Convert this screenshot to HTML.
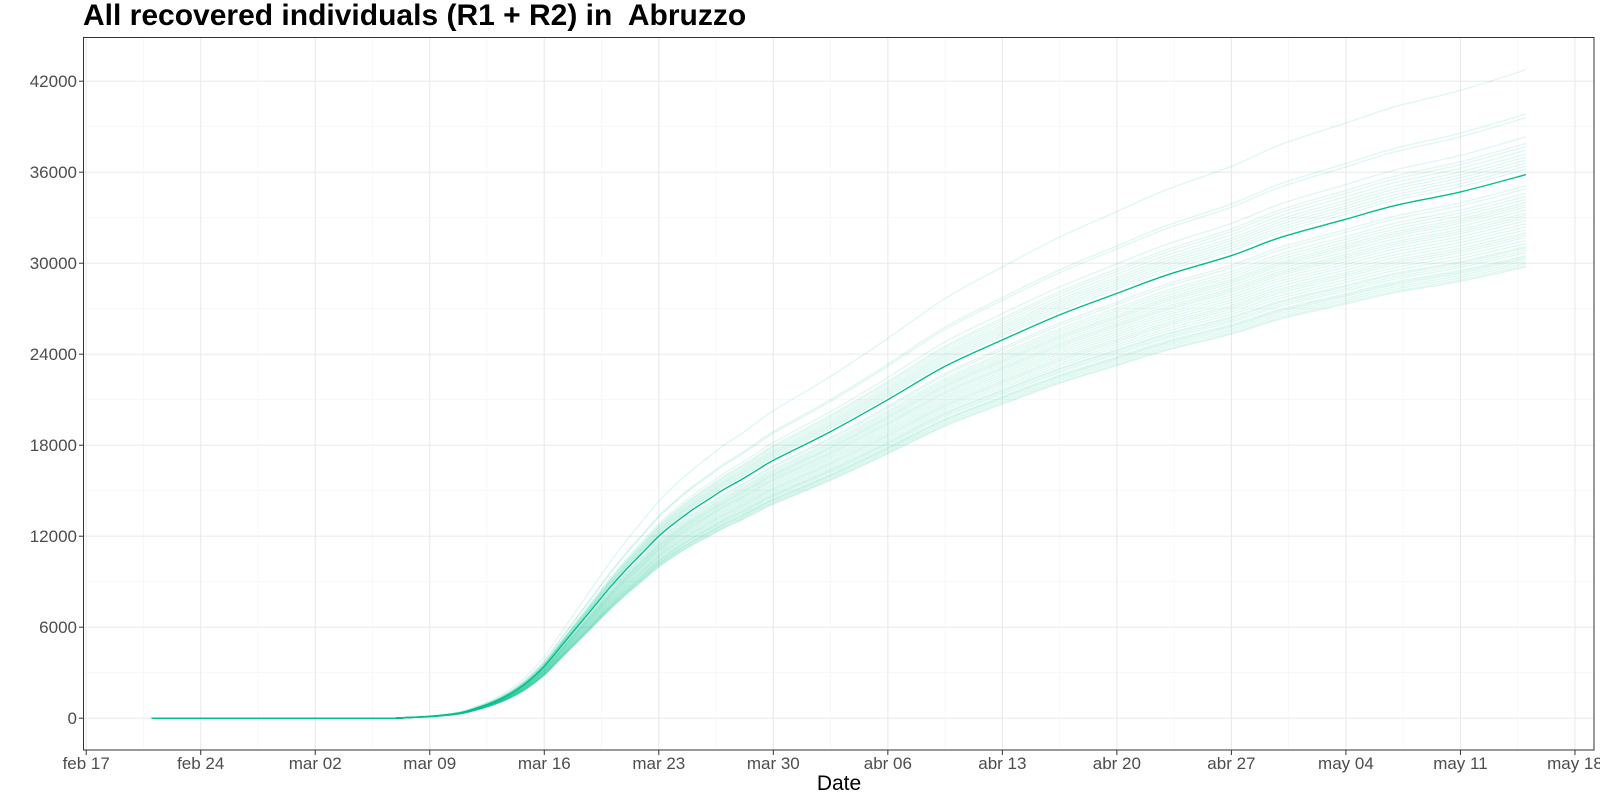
<!DOCTYPE html>
<html><head><meta charset="utf-8">
<style>
html,body{margin:0;padding:0;background:#fff;}
svg{display:block;font-family:"Liberation Sans",Arial,sans-serif;}
</style></head>
<body>
<svg id="chart" width="1600" height="800" viewBox="0 0 1600 800">
<text x="83" y="25" font-size="30" font-weight="bold" fill="#000" style="white-space:pre">All recovered individuals (R1 + R2) in&#160; Abruzzo</text>
<rect x="83.5" y="37.5" width="1510.5" height="712.5" fill="#fff"/>
<g id="grid"></g>
<g id="members"></g>
<g id="mainline"></g>
<rect x="83.5" y="37.5" width="1510.5" height="712.5" fill="none" stroke="#333" stroke-width="1"/>
<g id="yaxis"></g>
<g id="xaxis"></g>
<text x="839" y="790" font-size="21" text-anchor="middle" fill="#000">Date</text>
</svg>
<script>
// days counted from feb 17
const xTickLabels = ["feb 17","feb 24","mar 02","mar 09","mar 16","mar 23","mar 30","abr 06","abr 13","abr 20","abr 27","may 04","may 11","may 18"];
const yTicks = [0,6000,12000,18000,24000,30000,36000,42000];
const mainDays =   [4,18,19,20,21,22,23,24,25,26,27,28,29,30,31,32,33,34,35,36,37,38,39,40,41,42,45.5,49,52.5,56,59.5,63,66,70,73,77,80,84,88];
const mainValues = [0,0,20,60,120,220,380,700,1100,1650,2400,3400,4700,6000,7300,8600,9800,10900,12000,12900,13700,14400,15100,15700,16350,17000,18900,21000,23200,24940,26590,28010,29200,30500,31700,32900,33800,34700,35840];
const memberFinals = [42750,39840,39600,38330,37900,37700,37450,37200,37000,36800,36600,36400,34600,34400,34200,34000,33850,33700,33500,33300,33000,32800,32600,32400,32200,32000,31850,31700,31500,31300,31100,30850,30700,30500,30300,30150,30000,29850,29750,35100,34900,36200,31000,33150,30400];
const svgNS="http://www.w3.org/2000/svg";
function xScale(d){return 86.2+16.36*d;}
function yScale(v){return 718.2-v*91/6000;}
function mk(tag,attrs,parent){const e=document.createElementNS(svgNS,tag);for(const k in attrs)e.setAttribute(k,attrs[k]);parent.appendChild(e);return e;}
function smoothPath(pts){
  let d='M'+pts[0][0].toFixed(1)+','+pts[0][1].toFixed(1);
  for(let i=0;i<pts.length-1;i++){
    const p0=pts[Math.max(0,i-1)],p1=pts[i],p2=pts[i+1],p3=pts[Math.min(pts.length-1,i+2)];
    const c1x=p1[0]+(p2[0]-p0[0])/6,c1y=p1[1]+(p2[1]-p0[1])/6;
    const c2x=p2[0]-(p3[0]-p1[0])/6,c2y=p2[1]-(p3[1]-p1[1])/6;
    d+=' C'+c1x.toFixed(1)+','+Math.min(c1y,718.2).toFixed(1)+' '+c2x.toFixed(1)+','+Math.min(c2y,718.2).toFixed(1)+' '+p2[0].toFixed(1)+','+p2[1].toFixed(1);
  }
  return d;
}
const grid=document.getElementById('grid');
for(let v=-3000;v<=45000;v+=3000){
  const y=yScale(v); if(y<38||y>750)continue;
  const major=v%6000===0;
  const l=mk('line',{x1:84,x2:1594,y1:y,y2:y,stroke:major?'#ebebeb':'#f4f4f4','stroke-width':major?1.2:0.6},grid);
  
  
}
for(let d=-3.5;d<=94;d+=3.5){
  const x=xScale(d); if(x<84||x>1594)continue;
  const major=(d%7)===0;
  const l=mk('line',{x1:x,x2:x,y1:38,y2:750,stroke:major?'#ebebeb':'#f4f4f4','stroke-width':major?1.2:0.6},grid);
  
  
}
const members=document.getElementById('members');
const lastMain=mainValues[mainValues.length-1];
memberFinals.forEach(f=>{
  const r=f/lastMain;
  const pts=mainDays.map((d,i)=>[xScale(d),yScale(mainValues[i]*r)]);
  const p=mk('path',{d:smoothPath(pts),fill:'none',stroke:'#00BF8C','stroke-opacity':0.13,'stroke-width':1.3},members);
  
  
});
const mainPts=mainDays.map((d,i)=>[xScale(d),yScale(mainValues[i])]);
const m=mk('path',{d:smoothPath(mainPts),fill:'none',stroke:'#00BF8C','stroke-width':1.4},document.getElementById('mainline'));


const ya=document.getElementById('yaxis');
yTicks.forEach(v=>{
  const y=yScale(v);
  const t=mk('line',{x1:79,x2:83.5,y1:y,y2:y,stroke:'#333','stroke-width':1},ya);
  
  
  const tx=mk('text',{x:77,y:y+6,'font-size':17,'text-anchor':'end',fill:'#4d4d4d'},ya);
  tx.textContent=String(v);
  
  
});
const xa=document.getElementById('xaxis');
xTickLabels.forEach((lab,i)=>{
  const x=xScale(i*7);
  const t=mk('line',{x1:x,x2:x,y1:750,y2:755,stroke:'#333','stroke-width':1},xa);
  
  
  const tx=mk('text',{x:x,y:769,'font-size':17,'text-anchor':'middle',fill:'#4d4d4d'},xa);
  tx.textContent=lab;
  
  
});
</script>
</body></html>
